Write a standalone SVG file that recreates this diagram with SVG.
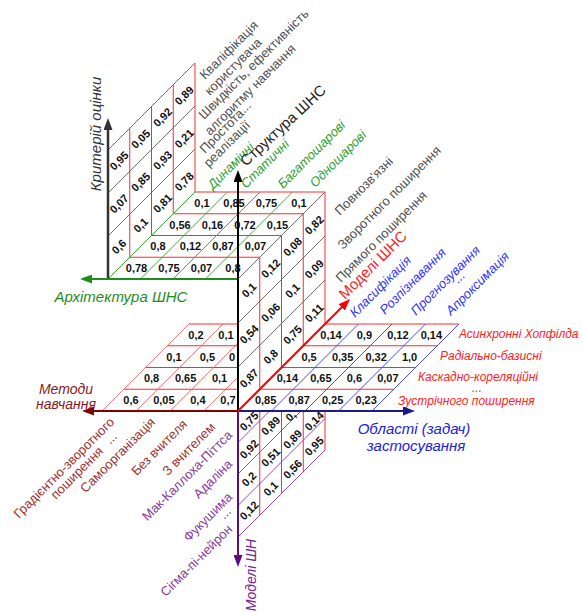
<svg xmlns="http://www.w3.org/2000/svg" width="583" height="613" viewBox="0 0 583 613">
<style>
.n{font-family:"Liberation Sans",Arial,sans-serif;font-size:11px;font-weight:bold;fill:#111;text-anchor:middle}
.gy{stroke:#707070;stroke-width:1;fill:none}
.rd{stroke:#ff2a2a;stroke-width:1;fill:none}
.gr{stroke:#3fae3f;stroke-width:1;fill:none}
.bl{stroke:#4a4aff;stroke-width:1;fill:none}
.pu{stroke:#9a4ac0;stroke-width:1;fill:none}
.rl{stroke:#ff5a5a;stroke-width:0.8;fill:none}
.t{font-family:"Liberation Sans",Arial,sans-serif;font-size:13px}
.ti{font-family:"Liberation Sans",Arial,sans-serif;font-size:13px;font-style:italic}
.tr{font-family:"Liberation Sans",Arial,sans-serif;font-size:12px;font-style:italic}
.b{font-family:"Liberation Sans",Arial,sans-serif;font-size:15px}
.bi{font-family:"Liberation Sans",Arial,sans-serif;font-size:15px;font-style:italic}
.bs{font-family:"Liberation Sans",Arial,sans-serif;font-size:14px;font-style:italic}
.cg{fill:#505050}.cgr{fill:#2e9e2e}.cb{fill:#3232ff}.cr{fill:#ff2020}.cdr{fill:#a03030}.cp{fill:#8a3a9e}
</style>
<defs>
<marker id="aK" viewBox="0 0 12 9" refX="2" refY="4.5" markerWidth="12" markerHeight="9" orient="auto" markerUnits="userSpaceOnUse"><path d="M0,0 L12,4.5 L0,9 z" fill="#000"/></marker>
<marker id="aG" viewBox="0 0 12 9" refX="2" refY="4.5" markerWidth="12" markerHeight="9" orient="auto" markerUnits="userSpaceOnUse"><path d="M0,0 L12,4.5 L0,9 z" fill="#333"/></marker>
<marker id="aGr" viewBox="0 0 12 9" refX="2" refY="4.5" markerWidth="12" markerHeight="9" orient="auto" markerUnits="userSpaceOnUse"><path d="M0,0 L12,4.5 L0,9 z" fill="#1e8c1e"/></marker>
<marker id="aDr" viewBox="0 0 12 9" refX="2" refY="4.5" markerWidth="12" markerHeight="9" orient="auto" markerUnits="userSpaceOnUse"><path d="M0,0 L12,4.5 L0,9 z" fill="#800000"/></marker>
<marker id="aB" viewBox="0 0 12 9" refX="2" refY="4.5" markerWidth="12" markerHeight="9" orient="auto" markerUnits="userSpaceOnUse"><path d="M0,0 L12,4.5 L0,9 z" fill="#1a1a8c"/></marker>
<marker id="aP" viewBox="0 0 12 9" refX="2" refY="4.5" markerWidth="12" markerHeight="9" orient="auto" markerUnits="userSpaceOnUse"><path d="M0,0 L12,4.5 L0,9 z" fill="#5c0f7a"/></marker>
<marker id="aR" viewBox="0 0 12 9" refX="2" refY="4.5" markerWidth="12" markerHeight="9" orient="auto" markerUnits="userSpaceOnUse"><path d="M0,0 L12,4.5 L0,9 z" fill="#ff0000"/></marker>
</defs>
<rect width="583" height="613" fill="#fff"/>

<!-- Criteria panel (vertical, upper-left) -->
<g id="criteria-panel">
<path class="gy" d="M108,150 L195,63 M108,193 L195,106 M108,236 L195,149"/>
<path class="rd" d="M129.75,128.25 V257.25 M151.5,106.5 V235.5 M173.25,84.75 V213.75 M195,63 V192"/>
<g class="n">
<text transform="translate(118.9,160.6) rotate(-45)" dy="4">0,95</text>
<text transform="translate(118.9,203.6) rotate(-45)" dy="4">0,07</text>
<text transform="translate(118.9,246.6) rotate(-45)" dy="4">0,6</text>
<text transform="translate(140.6,138.9) rotate(-45)" dy="4">0,05</text>
<text transform="translate(140.6,181.9) rotate(-45)" dy="4">0,85</text>
<text transform="translate(140.6,224.9) rotate(-45)" dy="4">0,1</text>
<text transform="translate(162.4,117.1) rotate(-45)" dy="4">0,92</text>
<text transform="translate(162.4,160.1) rotate(-45)" dy="4">0,93</text>
<text transform="translate(162.4,203.1) rotate(-45)" dy="4">0,81</text>
<text transform="translate(184.1,95.4) rotate(-45)" dy="4">0,89</text>
<text transform="translate(184.1,138.4) rotate(-45)" dy="4">0,21</text>
<text transform="translate(184.1,181.4) rotate(-45)" dy="4">0,78</text>
</g>
<g class="t cg">
<text transform="translate(205,80) rotate(-45)">Кваліфікація</text>
<text transform="translate(210,96) rotate(-45)">користувача</text>
<text transform="translate(204,120) rotate(-45)">Швидкість, ефективність</text>
<text transform="translate(210,136) rotate(-45)">алгоритму навчання</text>
<text transform="translate(248,110) rotate(-45)" text-anchor="middle">...</text>
<text transform="translate(205,154) rotate(-45)">Простота</text>
<text transform="translate(209,168) rotate(-45)">реалізації</text>
</g>
</g>

<!-- Architecture floor -->
<g id="architecture-floor">
<path class="rd" d="M129.75,257.25 H259.75 M151.5,235.5 H281.5 M173.25,213.75 H303.25 M195,192 H325"/>
<path class="gr" d="M108,279 L195,192 M140.5,279 L227.5,192 M173,279 L260,192 M205.5,279 L292.5,192"/>
<path class="gy" d="M238,279 L325,192"/>
<g class="n">
<text x="136.5" y="272">0,78</text><text x="169" y="272">0,75</text><text x="201.5" y="272">0,07</text><text x="233" y="272">0,8</text>
<text x="158" y="250.4">0,8</text><text x="190.5" y="250.4">0,12</text><text x="223" y="250.4">0,87</text><text x="255.5" y="250.4">0,07</text>
<text x="180" y="228.6">0,56</text><text x="212.5" y="228.6">0,16</text><text x="245" y="228.6">0,72</text><text x="277.5" y="228.6">0,15</text>
<text x="202" y="206.9">0,1</text><text x="234" y="206.9">0,85</text><text x="266.5" y="206.9">0,75</text><text x="299" y="206.9">0,1</text>
</g>
<g class="ti cgr">
<text transform="translate(213,190) rotate(-45)">Динамічні</text>
<text transform="translate(246,189) rotate(-45)">Статичні</text>
<text transform="translate(283,189) rotate(-45)">Багатошарові</text>
<text transform="translate(315,188) rotate(-45)">Одношарові</text>
</g>
</g>

<!-- Structure panel (central vertical) -->
<g id="structure-panel">
<path class="gy" d="M238,323 L325,236 M238,367 L325,280"/>
<path class="rd" d="M259.75,257.25 V389.25 M281.5,235.5 V367.5 M303.25,213.75 V345.75 M325,192 V324"/>
<g class="n">
<text transform="translate(248.9,290.1) rotate(-45)" dy="4">0,1</text>
<text transform="translate(248.9,334.1) rotate(-45)" dy="4">0,54</text>
<text transform="translate(248.9,378.1) rotate(-45)" dy="4">0,87</text>
<text transform="translate(270.6,268.4) rotate(-45)" dy="4">0,12</text>
<text transform="translate(270.6,312.4) rotate(-45)" dy="4">0,06</text>
<text transform="translate(270.6,356.4) rotate(-45)" dy="4">0,8</text>
<text transform="translate(292.4,246.6) rotate(-45)" dy="4">0,08</text>
<text transform="translate(292.4,290.6) rotate(-45)" dy="4">0,1</text>
<text transform="translate(292.4,334.6) rotate(-45)" dy="4">0,75</text>
<text transform="translate(314.1,224.9) rotate(-45)" dy="4">0,82</text>
<text transform="translate(314.1,268.9) rotate(-45)" dy="4">0,09</text>
<text transform="translate(314.1,312.9) rotate(-45)" dy="4">0,11</text>
</g>
<g class="t cg">
<text transform="translate(340,216) rotate(-45)">Повнозв'язні</text>
<text transform="translate(343,250) rotate(-45)">Зворотного поширення</text>
<text transform="translate(341,283) rotate(-45)">Прямого поширення</text>
</g>
</g>

<!-- Applications grid (bottom-right) -->
<g id="applications-grid">
<path class="rd" d="M259.75,389.25 H393.75 M281.5,367.5 H415.5 M303.25,345.75 H437.25 M325,324 H459"/>
<path class="bl" d="M271.5,411 L358.5,324 M305,411 L392,324 M338.5,411 L425.5,324 M372,411 L459,324"/>
<g class="n">
<text x="265.6" y="404.1">0,85</text><text x="299.1" y="404.1">0,87</text><text x="332.6" y="404.1">0,25</text><text x="366.1" y="404.1">0,23</text>
<text x="287.4" y="382.4">0,14</text><text x="320.9" y="382.4">0,65</text><text x="354.4" y="382.4">0,6</text><text x="387.9" y="382.4">0,07</text>
<text x="309.1" y="360.6">0,5</text><text x="342.6" y="360.6">0,35</text><text x="376.1" y="360.6">0,32</text><text x="409.6" y="360.6">1,0</text>
<text x="331" y="338.9">0,14</text><text x="364.4" y="338.9">0,9</text><text x="397.9" y="338.9">0,12</text><text x="431.4" y="338.9">0,14</text>
</g>
<g class="ti cb">
<text transform="translate(355,318) rotate(-45)">Класифікація</text>
<text transform="translate(385,315) rotate(-45)">Розпізнавання</text>
<text transform="translate(416,316) rotate(-45)">Прогнозування</text>
<text transform="translate(462,280) rotate(-45)" text-anchor="middle">...</text>
<text transform="translate(451,316) rotate(-45)">Апроксимація</text>
</g>
<g class="tr cr">
<text x="459" y="338">Асинхронні Хопфілда</text>
<text x="440" y="360">Радіально-базисні</text>
<text x="418" y="381">Каскадно-кореляційні</text>
<text x="477" y="392" text-anchor="middle">...</text>
<text x="398" y="405">Зустрічного поширення</text>
</g>
</g>

<!-- Methods grid (lower-left) -->
<g id="methods-grid">
<path class="rd" d="M123.75,389.25 H238 M145.5,367.5 H238 M167.25,345.75 H238 M189,324 H238"/>
<path class="rl" d="M102,411 L189,324 M136,411 L223,324 M170,411 L238,343 M204,411 L238,377"/>
<g class="n">
<text x="131" y="404.1">0,6</text><text x="163.9" y="404.1">0,05</text><text x="197.9" y="404.1">0,4</text><text x="228" y="404.1">0,7</text>
<text x="151.6" y="382.4">0,8</text><text x="185.6" y="382.4">0,65</text><text x="219.6" y="382.4">0,1</text>
<text x="174" y="360.6">0,1</text><text x="207.4" y="360.6">0,5</text><text x="232" y="360.6">0</text>
<text x="196" y="338.9">0,2</text><text x="226" y="338.9">0,1</text>
</g>
<g class="t cdr">
<text transform="translate(115,423) rotate(-45)" text-anchor="end">Градієнтно-зворотного</text>
<text transform="translate(104,452) rotate(-45)" text-anchor="end">поширення</text>
<text transform="translate(114,441) rotate(-45)" text-anchor="middle">...</text>
<text transform="translate(156,423) rotate(-45)" text-anchor="end">Самоорганізація</text>
<text transform="translate(188,425) rotate(-45)" text-anchor="end">Без вчителя</text>
<text transform="translate(216,428) rotate(-45)" text-anchor="end">З вчителем</text>
</g>
</g>

<!-- Neuron models grid (lower) -->
<g id="neuron-models-grid">
<path class="pu" d="M238,442.5 L269.5,411 M238,474 L301,411 M238,505.5 L325,418.5 M238,537 L325,450"/>
<path class="rd" d="M259.75,411 V515.25 M281.5,411 V493.5 M303.25,411 V471.75 M325,411 V450"/>
<g class="n">
<text transform="translate(248.9,421) rotate(-45)" dy="4">0,75</text>
<text transform="translate(248.9,449) rotate(-45)" dy="4">0,92</text>
<text transform="translate(248.9,479) rotate(-45)" dy="4">0,2</text>
<text transform="translate(248.9,510.4) rotate(-45)" dy="4">0,12</text>
<text transform="translate(270.6,425.6) rotate(-45)" dy="4">0,89</text>
<text transform="translate(270.6,457.1) rotate(-45)" dy="4">0,51</text>
<text transform="translate(270.6,488.6) rotate(-45)" dy="4">0,1</text>
<text transform="translate(290.5,416) rotate(-45)" dy="4">0,</text>
<text transform="translate(292.4,439) rotate(-45)" dy="4">0,89</text>
<text transform="translate(292.4,469) rotate(-45)" dy="4">0,56</text>
<text transform="translate(314.1,421) rotate(-45)" dy="4">0,14</text>
<text transform="translate(314.1,446) rotate(-45)" dy="4">0,95</text>
</g>
<g class="t cp">
<text transform="translate(233,436) rotate(-45)" text-anchor="end">Мак-Каллоха-Піттса</text>
<text transform="translate(233,465) rotate(-45)" text-anchor="end">Адаліна</text>
<text transform="translate(233,498) rotate(-45)" text-anchor="end">Фукушима</text>
<text transform="translate(228,516) rotate(-45)" text-anchor="middle">...</text>
<text transform="translate(233,530) rotate(-45)" text-anchor="end">Сігма-пі-нейрон</text>
</g>
</g>

<!-- Axes (connectors) -->
<g id="axes" fill="none">
<line x1="108" y1="279" x2="108" y2="128" stroke="#333" stroke-width="2.5" marker-end="url(#aG)"/>
<line x1="238" y1="279" x2="90" y2="279" stroke="#1e8c1e" stroke-width="2" marker-end="url(#aGr)"/>
<line x1="238" y1="411" x2="238" y2="180" stroke="#000" stroke-width="2" marker-end="url(#aK)"/>
<line x1="238" y1="411" x2="92" y2="411" stroke="#800000" stroke-width="2" marker-end="url(#aDr)"/>
<line x1="238" y1="411" x2="405" y2="411" stroke="#1a1a8c" stroke-width="2" marker-end="url(#aB)"/>
<line x1="238" y1="411" x2="238" y2="557" stroke="#5c0f7a" stroke-width="2" marker-end="url(#aP)"/>
<line x1="238" y1="411" x2="343" y2="306" stroke="#ff0000" stroke-width="2" marker-end="url(#aR)"/>
</g>

<!-- Axis titles -->
<g id="axis-titles">
<text class="bi" fill="#333" transform="translate(101,134) rotate(-90)" text-anchor="middle">Критерій оцінки</text>
<text class="b" fill="#222" transform="translate(246,167) rotate(-43)">Структура ШНС</text>
<text class="bi" fill="#1e8c1e" x="121" y="302" text-anchor="middle">Архітектура ШНС</text>
<text class="b" fill="#ff2020" transform="translate(345,300) rotate(-45)">Моделі ШНС</text>
<text class="bs" fill="#8b1a1a" x="66" y="394" text-anchor="middle">Методи</text>
<text class="bs" fill="#8b1a1a" x="66" y="409" text-anchor="middle">навчання</text>
<text class="bi" fill="#2222dd" x="414" y="434" text-anchor="middle">Області (задач)</text>
<text class="bi" fill="#2222dd" x="416" y="451" text-anchor="middle">застосування</text>
<text class="bs" fill="#7a2090" transform="translate(256,575) rotate(-90)" text-anchor="middle">Моделі ШН</text>
</g>
</svg>
